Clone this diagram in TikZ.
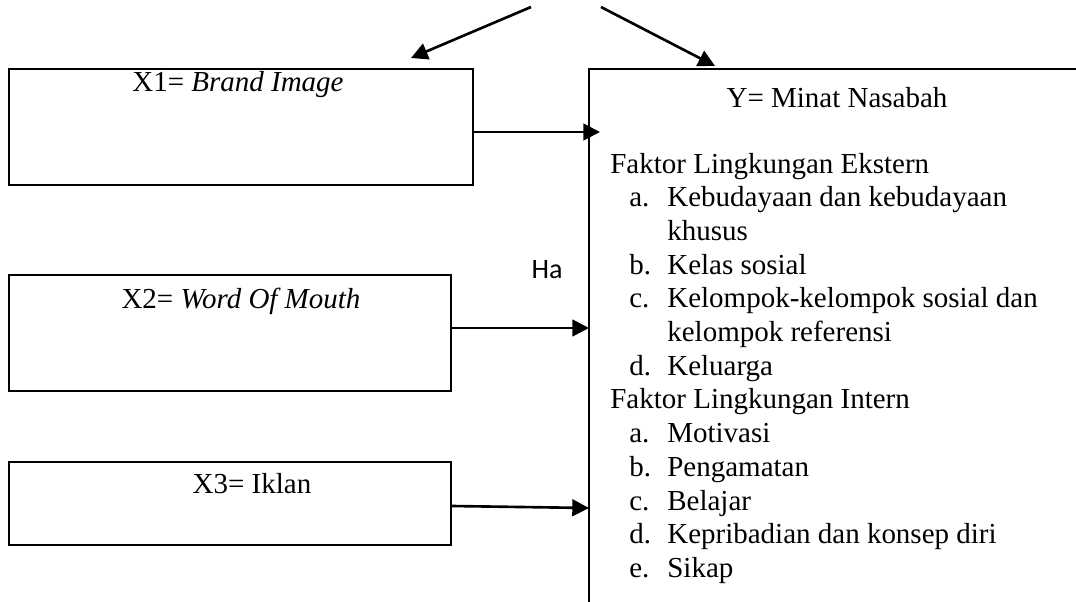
\documentclass[tikz,border=0pt]{standalone}
\usepackage{fontspec}
\setmainfont{Liberation Serif}
\newfontfamily\calibri{Carlito}
\usetikzlibrary{arrows.meta,calc,positioning}

\tikzset{
  varbox/.style={draw, line width=1.1pt, inner sep=0pt},
  boxtxt/.style={anchor=base, inner sep=0pt, font=\fontsize{16.5}{19.1}\selectfont},
  ytxt/.style={anchor=base west, inner sep=0pt, font=\fontsize{16.5}{19.1}\selectfont},
  link/.style={line width=1.5pt, -{Triangle[length=9.5pt, width=9.5pt]}}
}

\begin{document}
\begin{tikzpicture}[x=0.02cm, y=-0.02cm]
        \useasboundingbox (0,0) rectangle (1076,602);

        % variabel bebas
        \node[varbox, minimum width=464*0.02cm, minimum height=116*0.02cm] (x1) at (241,127) {};
        \node[varbox, minimum width=442*0.02cm, minimum height=116*0.02cm] (x2) at (230,333) {};
        \node[varbox, minimum width=442*0.02cm, minimum height=83*0.02cm] (x3) at (230,503.5) {};
        \node[boxtxt] (x1-lbl) at (238,91) {X1= \textit{Brand Image}};
        \node[boxtxt] (x2-lbl) at (241,308) {X2= \textit{Word Of Mouth}};
        \node[boxtxt] (x3-lbl) at (252,493) {X3= Iklan};

        % variabel terikat (kotak terbuka)
        \coordinate (y-tl) at (589,69);
        \coordinate (y-tr) at (1076,69);
        \coordinate (y-bl) at (589,602);
        \draw[line width=1.1pt] (y-tr) -- (y-tl) -- (y-bl);

        \node[boxtxt] (y-lbl) at (837,107) {Y= Minat Nasabah};
        \node[ytxt] (ekstern) at (610,173) {Faktor Lingkungan Ekstern};
        \foreach \lab/\txt [count=\i] in {a./Kebudayaan dan kebudayaan, {}/khusus, b./Kelas sosial,
            c./Kelompok-kelompok sosial dan, {}/kelompok referensi, d./Keluarga}
        {
            \node[ytxt] (ek-\i-l) at (629,173+33.7*\i) {\lab};
            \node[ytxt] (ek-\i) at (667,173+33.7*\i) {\txt};
        }
        \node[ytxt] (intern) at (610,408.9) {Faktor Lingkungan Intern};
        \foreach \lab/\txt [count=\i] in {a./Motivasi, b./Pengamatan, c./Belajar,
            d./Kepribadian dan konsep diri, e./Sikap}
        {
            \node[ytxt] (in-\i-l) at (629,408.9+33.7*\i) {\lab};
            \node[ytxt] (in-\i) at (667,408.9+33.7*\i) {\txt};
        }

        % hipotesis
        \node[inner sep=0pt, font=\calibri\fontsize{16}{18}\selectfont] (ha) at (547,270) {Ha};

        % panah
        \coordinate (top-l) at (531,7);
        \coordinate (top-r) at (601,7);
        \coordinate (tip-l) at (411,58);
        \coordinate (tip-r) at (715,66);
        \draw[link] (top-l) -- (tip-l);
        \draw[link] (top-r) -- (tip-r);

        \draw[link] ($(x1.east)+(0,5)$) -- ($(y-tl |- 0,132)+(11,0)$);
        \draw[link] ($(x2.east)+(0,-5)$) -- (y-tl |- 0,328);
        \draw[link] ($(x3.east)+(0,2.5)$) -- (y-tl |- 0,508);
    \end{tikzpicture}
\end{document}
